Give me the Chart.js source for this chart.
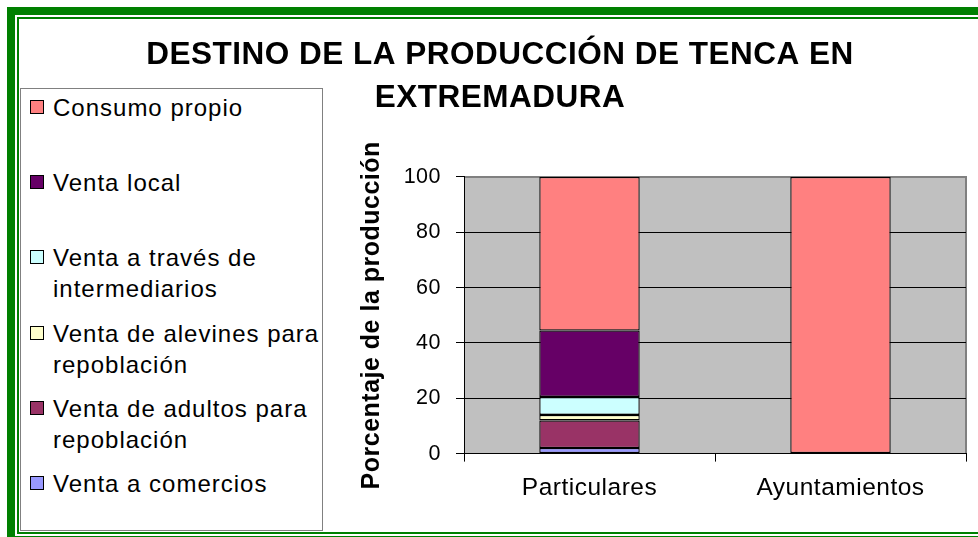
<!DOCTYPE html>
<html>
<head>
<meta charset="utf-8">
<script src="https://cdn.jsdelivr.net/npm/chart.js@4.4.1/dist/chart.umd.min.js"></script>
<style>
  html, body { margin: 0; padding: 0; width: 978px; height: 537px; overflow: hidden; background: #fff; }
  body { position: relative; font-family: "Liberation Sans", Arial, sans-serif; }
  .frame-outer { position: absolute; left: 7px; top: 7px; width: 1000px; height: 537px; box-sizing: border-box; border: 8px solid #008000; }
  .frame-inner { position: absolute; left: 17px; top: 17px; width: 1000px; height: 517px; box-sizing: border-box; border: 2px solid #008000; }
  #legendBox { position: absolute; left: 20px; top: 88px; width: 303px; height: 443px; box-sizing: border-box; border: 1px solid #808080; background: #fff; }
  .item { position: absolute; left: 30px; width: 300px; }
  .sw { position: absolute; left: 0; top: 8px; width: 14px; height: 14px; box-sizing: border-box; border: 1px solid #000; }
  .tx { position: absolute; left: 23px; top: 0; width: 272px; font-size: 24px; line-height: 31px; letter-spacing: 1px; color: #000; }
  #chart { position: absolute; left: 34px; top: 0; }
</style>
</head>
<body>
<div class="frame-outer"></div>
<div class="frame-inner"></div>
<div id="legendBox"></div>
<div id="legend"></div>
<canvas id="chart" width="944" height="537"></canvas>
<script>
// categorias y series (porcentaje de la produccion)
const categories = ['Particulares', 'Ayuntamientos'];
const ventaComercios = [2, 0];
const ventaAdultos = [10, 0];
const ventaAlevines = [2, 0];
const ventaIntermediarios = [6.5, 0];
const ventaLocal = [24, 0];
const consumoPropio = [55.5, 100];
const yTicks = [0, 20, 40, 60, 80, 100];

const FONT = "'Liberation Sans', Arial, sans-serif";

// texto algo espaciado, como en el grafico original
const spacing = {
  id: 'spacing',
  beforeUpdate(chart) { chart.ctx.letterSpacing = '0.5px'; },
  beforeRender(chart) { chart.ctx.letterSpacing = '0.5px'; }
};

const plotBg = {
  id: 'plotBg',
  beforeDraw(chart) {
    const { ctx, chartArea: a } = chart;
    ctx.save();
    ctx.fillStyle = '#C0C0C0';
    ctx.fillRect(a.left, a.top, a.right - a.left, a.bottom - a.top);
    ctx.strokeStyle = '#808080';
    ctx.lineWidth = 2;
    ctx.beginPath();
    ctx.moveTo(a.left, a.top);
    ctx.lineTo(a.right, a.top);
    ctx.lineTo(a.right, a.bottom);
    ctx.stroke();
    ctx.restore();
  }
};

function serie(label, data, color) {
  return {
    label: label,
    data: data,
    backgroundColor: color,
    borderColor: '#000',
    borderWidth: 1.3,
    borderSkipped: false,
    barPercentage: 0.4,
    categoryPercentage: 1
  };
}

const chart = new Chart(document.getElementById('chart'), {
  type: 'bar',
  data: {
    labels: categories,
    datasets: [
      serie('Venta a comercios', ventaComercios, '#9999FF'),
      serie('Venta de adultos para repoblación', ventaAdultos, '#993366'),
      serie('Venta de alevines para repoblación', ventaAlevines, '#FFFFCC'),
      serie('Venta a través de intermediarios', ventaIntermediarios, '#CCFFFF'),
      serie('Venta local', ventaLocal, '#660066'),
      serie('Consumo propio', consumoPropio, '#FF8080')
    ]
  },
  options: {
    responsive: false,
    animation: false,
    layout: { padding: { top: 0, right: 12, bottom: 22, left: 0 } },
    plugins: {
      legend: { display: false },
      tooltip: { enabled: false },
      title: {
        display: true,
        text: ['DESTINO DE LA PRODUCCIÓN DE TENCA EN', 'EXTREMADURA'],
        color: '#000',
        font: { family: FONT, size: 31.5, weight: 'bold', lineHeight: 1.365 },
        padding: { top: 34, bottom: 57 }
      }
    },
    scales: {
      x: {
        stacked: true,
        grid: { display: true, drawOnChartArea: false, offset: true, tickLength: 8, color: '#000' },
        border: { display: true, color: '#000', width: 1 },
        ticks: { color: '#000', padding: 12, font: { family: FONT, size: 24.5 } }
      },
      y: {
        stacked: true,
        min: 0,
        max: 100,
        afterFit(scale) { scale.width = 430; },
        afterBuildTicks(scale) { scale.ticks = yTicks.map(v => ({ value: v })); },
        grid: {
          color: c => (c.tick && c.tick.value === 100 ? '#808080' : '#000'),
          tickColor: '#000',
          tickLength: 8,
          lineWidth: 1
        },
        border: { display: true, color: '#000', width: 1 },
        ticks: { color: '#000', padding: 15, font: { family: FONT, size: 21.5 } },
        title: {
          display: true,
          text: 'Porcentaje de la producción',
          color: '#000',
          font: { family: FONT, size: 25, weight: 'bold' },
          padding: { top: 323, bottom: 0 }
        }
      }
    }
  },
  plugins: [spacing, plotBg]
});

// leyenda en HTML, de arriba a abajo en orden inverso a la pila
const legendEl = document.getElementById('legend');
chart.data.datasets.slice().reverse().forEach((ds, i) => {
  const item = document.createElement('div');
  item.className = 'item';
  item.style.top = (92 + i * 75.2) + 'px';
  item.innerHTML = '<span class="sw" style="background:' + ds.backgroundColor + '"></span>' +
    '<span class="tx">' + ds.label + '</span>';
  legendEl.appendChild(item);
});
</script>
</body>
</html>
